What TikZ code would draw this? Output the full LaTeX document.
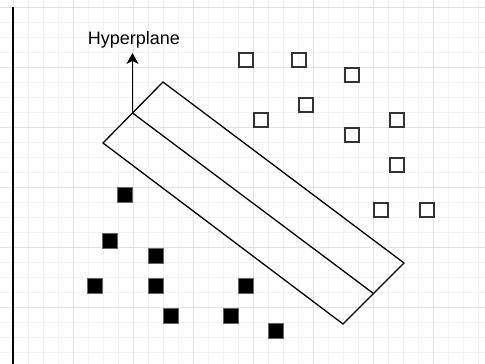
\documentclass[tikz,border=0pt]{standalone}
\usepackage{fontspec}
\setmainfont{Liberation Sans}
\usetikzlibrary{arrows.meta}

\begin{document}
\begin{tikzpicture}[x=1pt,y=-1pt,>={Stealth[length=11pt,width=12pt,inset=3pt]}]
\useasboundingbox (0,0) rectangle (485,364);
\fill[white] (0,0) rectangle (485,364);
% grid
\begin{scope}[shift={(13,7)}]
\draw[black!5, line width=0.8pt, step=15pt] (-30,-30) grid (480,360);
\draw[black!11, line width=0.8pt, step=60pt] (-60,-60) grid (480,360);
\end{scope}
\draw[line width=2pt] (12.5,7) -- (12.5,364);

% margin band
\coordinate (top) at (163,82);
\coordinate (left) at (103,143);
\coordinate (bottom) at (343,324);
\coordinate (right) at (404,263);
\coordinate (mid1) at (132.5,113);
\coordinate (mid2) at (373.5,293.5);
\draw[line width=1.3pt, line join=miter] (top) -- (left) -- (bottom) -- (right) -- cycle;
\draw[line width=1.3pt] (mid1) -- (mid2);

\node[anchor=base, inner sep=0pt, font=\fontsize{18}{20}\selectfont] (hyp) at (134,45) {Hyperplane};
\draw[->, line width=1.6pt, shorten >=4pt] (mid1) -- (mid1 |- hyp.south);

% open squares
\node[draw=black!80, line width=1.8pt, minimum size=14pt, inner sep=0pt] (o1) at (246,60) {};
\node[draw=black!80, line width=1.8pt, minimum size=14pt, inner sep=0pt] (o2) at (299,60) {};
\node[draw=black!80, line width=1.8pt, minimum size=14pt, inner sep=0pt] (o3) at (352,75) {};
\node[draw=black!80, line width=1.8pt, minimum size=14pt, inner sep=0pt] (o4) at (306,105) {};
\node[draw=black!80, line width=1.8pt, minimum size=14pt, inner sep=0pt] (o5) at (261,120) {};
\node[draw=black!80, line width=1.8pt, minimum size=14pt, inner sep=0pt] (o6) at (397,120) {};
\node[draw=black!80, line width=1.8pt, minimum size=14pt, inner sep=0pt] (o7) at (352,135) {};
\node[draw=black!80, line width=1.8pt, minimum size=14pt, inner sep=0pt] (o8) at (397,165) {};
\node[draw=black!80, line width=1.8pt, minimum size=14pt, inner sep=0pt] (o9) at (381,210) {};
\node[draw=black!80, line width=1.8pt, minimum size=14pt, inner sep=0pt] (o10) at (427,210) {};

% filled squares
\node[draw=black!60, fill=black, line width=0.8pt, minimum size=15.5pt, inner sep=0pt] (f1) at (125,195) {};
\node[draw=black!60, fill=black, line width=0.8pt, minimum size=15.5pt, inner sep=0pt] (f2) at (110,241) {};
\node[draw=black!60, fill=black, line width=0.8pt, minimum size=15.5pt, inner sep=0pt] (f3) at (156,256) {};
\node[draw=black!60, fill=black, line width=0.8pt, minimum size=15.5pt, inner sep=0pt] (f4) at (95,286) {};
\node[draw=black!60, fill=black, line width=0.8pt, minimum size=15.5pt, inner sep=0pt] (f5) at (156,286) {};
\node[draw=black!60, fill=black, line width=0.8pt, minimum size=15.5pt, inner sep=0pt] (f6) at (246,286) {};
\node[draw=black!60, fill=black, line width=0.8pt, minimum size=15.5pt, inner sep=0pt] (f7) at (171,316) {};
\node[draw=black!60, fill=black, line width=0.8pt, minimum size=15.5pt, inner sep=0pt] (f8) at (231,316) {};
\node[draw=black!60, fill=black, line width=0.8pt, minimum size=15.5pt, inner sep=0pt] (f9) at (276,331) {};
\end{tikzpicture}
\end{document}
